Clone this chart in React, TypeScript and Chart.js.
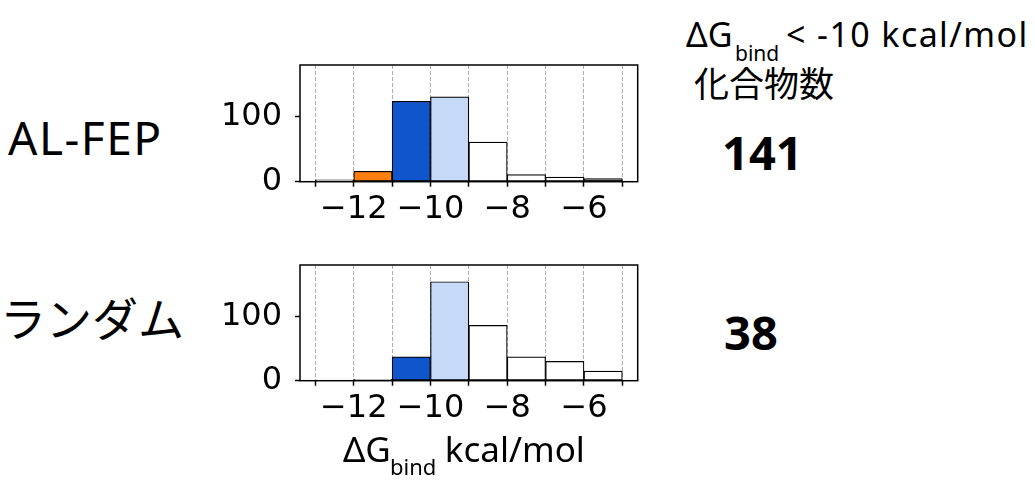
import React, { useEffect, useRef } from 'react';
import { Chart, registerables } from 'chart.js';

Chart.register(...registerables);

// ---- data ----
const binCenters = [-12.5, -11.5, -10.5, -9.5, -8.5, -7.5, -6.5, -5.5];
const binEdges = [-13, -12, -11, -10, -9, -8, -7, -6, -5];
const alFepCounts = [3, 16, 124, 131, 61, 11, 7, 5];
const randomCounts = [0, 2, 37, 154, 86, 37, 30, 15];
const alFepColors = ['#ffffff', '#ff7f0e', '#1155cc', '#c6d9f6', '#ffffff', '#ffffff', '#ffffff', '#808080'];
const randomColors = ['#ffffff', '#ffffff', '#1155cc', '#c6d9f6', '#ffffff', '#ffffff', '#ffffff', '#ffffff'];
const yTickValues = [0, 100];
const yMax = 180;
const xMin = -13.4;
const xMax = -4.6;
const rowLabels = ['AL-FEP', 'ランダム'];
const hitCounts = ['141', '38'];

const LATIN = '"Noto Sans", "Noto Sans CJK JP", sans-serif';
const CJK = '"Noto Sans CJK JP", sans-serif';

type HistProps = {
  counts: number[];
  colors: string[];
  left: number;
  top: number;
  width: number;
  height: number;
  padTop: number;
  padRight: number;
  yAxisW: number;
  xAxisH: number;
};

function Hist(p: HistProps) {
  const ref = useRef<HTMLCanvasElement>(null);
  useEffect(() => {
    const boxPlugin = {
      id: 'box',
      afterDatasetsDraw(chart: any) {
        const { ctx, chartArea: a } = chart;
        ctx.save();
        ctx.strokeStyle = '#000';
        ctx.lineWidth = 1.5;
        ctx.strokeRect(a.left, a.top, a.right - a.left, a.bottom - a.top);
        ctx.restore();
      },
    };
    const chart = new Chart(ref.current as HTMLCanvasElement, {
      type: 'bar',
      data: {
        datasets: [
          {
            data: binCenters.map((x, i) => ({ x, y: p.counts[i] })) as any,
            backgroundColor: p.colors,
            borderColor: '#000',
            borderWidth: 1.2,
            borderSkipped: false,
            barPercentage: 1,
            categoryPercentage: 1,
          },
        ],
      },
      options: {
        animation: false,
        responsive: false,
        layout: { padding: { top: p.padTop, right: p.padRight, left: 0, bottom: 0 } },
        plugins: { legend: { display: false }, tooltip: { enabled: false } },
        scales: {
          x: {
            type: 'linear',
            min: xMin,
            max: xMax,
            offset: false,
            afterBuildTicks: (s: any) => {
              s.ticks = binEdges.map((v) => ({ value: v }));
            },
            afterFit: (s: any) => {
              s.height = p.xAxisH;
              s.paddingLeft = 0;
              s.paddingRight = 0;
            },
            grid: {
              color: '#b0b0b0',
              lineWidth: 1,
              offset: false,
              drawTicks: true,
              tickLength: 5,
              tickColor: '#000',
              tickWidth: 1.5,
              tickBorderDash: [],
            },
            border: { display: false, dash: [4, 2] },
            ticks: {
              color: '#000',
              font: { family: 'DejaVu Sans', size: 32 },
              padding: 4,
              maxRotation: 0,
              minRotation: 0,
              autoSkip: false,
              callback: (v: any) => {
                const n = Math.round(Number(v));
                return n % 2 === 0 ? '\u2212' + Math.abs(n) : '';
              },
            },
          },
          y: {
            min: 0,
            max: yMax,
            afterBuildTicks: (s: any) => {
              s.ticks = yTickValues.map((v) => ({ value: v }));
            },
            afterFit: (s: any) => {
              s.width = p.yAxisW;
              s.paddingTop = 0;
              s.paddingBottom = 0;
            },
            grid: {
              drawOnChartArea: false,
              drawTicks: true,
              tickLength: 5,
              tickColor: '#000',
              tickWidth: 1.5,
            },
            border: { display: false },
            ticks: {
              color: '#000',
              font: { family: 'DejaVu Sans', size: 32 },
              padding: 13,
              callback: (v: any) => String(v),
            },
          },
        },
      } as any,
      plugins: [boxPlugin],
    });
    return () => chart.destroy();
  }, []);
  return (
    <div style={{ position: 'absolute', left: p.left, top: p.top, width: p.width, height: p.height }}>
      <canvas ref={ref} width={p.width} height={p.height} />
    </div>
  );
}

function T(props: { x: number; y: number; size: number; family: string; weight?: number; ls?: number; children: React.ReactNode }) {
  return (
    <div
      style={{
        position: 'absolute',
        left: props.x,
        top: props.y,
        fontSize: props.size,
        lineHeight: props.size + 'px',
        fontFamily: props.family,
        fontWeight: props.weight ?? 400,
        letterSpacing: props.ls ?? 0,
        whiteSpace: 'nowrap',
        color: '#000',
      }}
    >
      {props.children}
    </div>
  );
}

export default function App() {
  return (
    <div style={{ position: 'absolute', left: 0, top: 0, width: 1035, height: 487, background: '#fff', overflow: 'hidden' }}>
      <Hist counts={alFepCounts} colors={alFepColors} left={190} top={50} width={470} height={185} padTop={15} padRight={22.3} yAxisW={110} xAxisH={53.3} />
      <Hist counts={randomCounts} colors={randomColors} left={190} top={250} width={470} height={185} padTop={15} padRight={22.3} yAxisW={110} xAxisH={54.3} />

      <T x={8} y={113.5} size={46} family={LATIN} ls={1.5}>{rowLabels[0]}</T>
      <T x={0} y={292.5} size={46} family={CJK}>{rowLabels[1]}</T>

      <T x={686} y={17.1} size={34} family={LATIN}>ΔG</T>
      <T x={735} y={43} size={21} family={LATIN}>bind</T>
      <T x={786} y={17.1} size={34} family={LATIN} ls={1.4}>{'< -10 kcal/mol'}</T>
      <T x={694} y={63.5} size={35} family={CJK}>化合物数</T>

      <T x={722} y={129} size={47} family={LATIN} weight={700}>{hitCounts[0]}</T>
      <T x={724} y={309.3} size={47} family={LATIN} weight={700}>{hitCounts[1]}</T>

      <T x={343} y={430.6} size={35} family={LATIN}>ΔG</T>
      <T x={390} y={454.8} size={22} family={LATIN}>bind</T>
      <T x={444.8} y={430.6} size={35} family={LATIN}>kcal/mol</T>
    </div>
  );
}
